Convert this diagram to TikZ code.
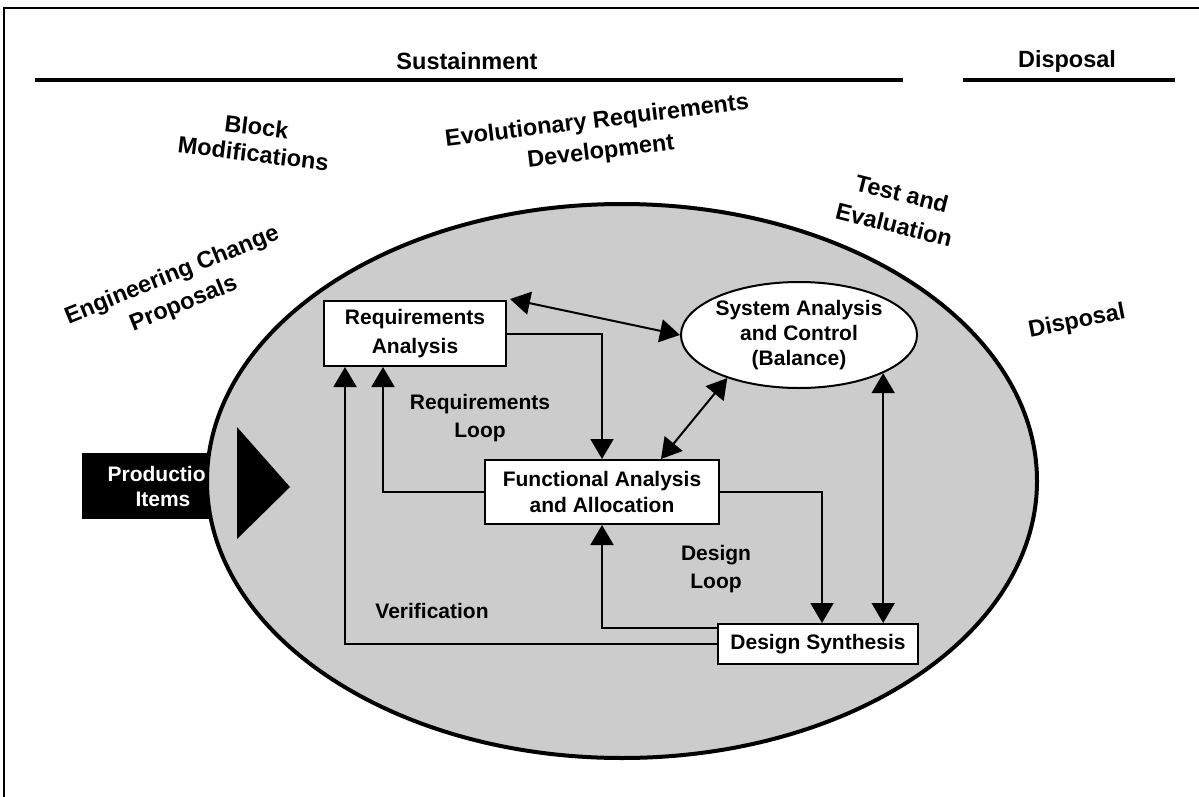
\documentclass[tikz,border=0pt]{standalone}
\usepackage{fontspec}
\setmainfont{Liberation Sans}
\usetikzlibrary{arrows.meta,shapes.geometric,calc}
\definecolor{bigfill}{HTML}{CCCCCC}
\newcommand\dfbig{\fontsize{23.5}{31}\selectfont\bfseries}
\newcommand\dfin{\fontsize{21}{28}\selectfont\bfseries}
\begin{document}
\begin{tikzpicture}[x=1pt,y=-1pt,
  hdr/.style={font=\dfbig, inner sep=0pt, align=center},
  lbl/.style={font=\dfin, inner sep=0pt, align=center},
  box/.style={draw, line width=2pt, fill=white, inner sep=0pt, align=center},
  tipA/.tip={Triangle[length=20pt,width=23pt]},
  arr/.style={line width=2pt, -tipA},
  dbl/.style={line width=2pt, tipA-tipA}]
\useasboundingbox (0,0) rectangle (1199,797);
% frame
\draw[line width=2pt] (4,797) -- (4,8) -- (1199,8);
% headers
\node[hdr] (sust) at (467,61) {Sustainment};
\node[hdr] (disp) at (1067,61) {Disposal};
\draw[line width=3.5pt] (35,80) -- (903,80);
\draw[line width=3.5pt] (963,80) -- (1175,80);
% rotated labels
\node[hdr, rotate=-7, font=\fontsize{23.5}{27}\selectfont\bfseries] (blk) at (255,140) {Block\\Modifications};
\node[hdr, rotate=7] (evo) at (599,137) {Evolutionary Requirements\\Development};
\node[hdr, rotate=22] (ecp) at (178,290) {Engineering Change\\Proposals};
\node[hdr, rotate=-14, font=\fontsize{23.5}{32}\selectfont\bfseries] (tae) at (898,209) {Test and\\Evaluation};
\node[hdr, rotate=11] (dsp) at (1077,322) {Disposal};
% production items
\node[fill=black, text=white, minimum width=162pt, minimum height=66pt, inner sep=0pt,
      font=\fontsize{21}{25}\selectfont\bfseries, align=center] (prod) at (163,486) {Production\\Items};
% big ellipse
\node[ellipse, draw, line width=4pt, fill=bigfill, minimum width=830pt, minimum height=554pt, inner sep=0pt] (big) at (622,481) {};
\fill (237,427) -- (237,539) -- (290,487) -- cycle;
% boxes
\node[box, minimum width=182pt, minimum height=65pt, font=\fontsize{21}{29}\selectfont\bfseries] (reqA) at (415,333.5) {Requirements\\Analysis};
\node[box, minimum width=234pt, minimum height=64pt, font=\fontsize{21}{26}\selectfont\bfseries] (funA) at (602,492) {Functional Analysis\\and Allocation};
\node[box, minimum width=200pt, minimum height=40pt, font=\fontsize{21}{26}\selectfont\bfseries] (desS) at (818,644) {Design Synthesis};
\node[box, ellipse, minimum width=212pt, minimum height=106pt, font=\fontsize{21}{25}\selectfont\bfseries] (sysA) at (799,335) {System Analysis\\and Control\\(Balance)};
% labels
\node[lbl] (rloop) at (480,418) {Requirements\\Loop};
\node[lbl] (dloop) at (716,569) {Design\\Loop};
\node[lbl] (verif) at (432,611) {Verification};
% connectors
\draw[dbl] ($(reqA.north east)+(3,-1)$) -- (sysA.west);
\draw[arr] (reqA.east) -| (funA.north);
\draw[dbl] ($(funA.north)+(59,0)$) -- (sysA.211);
\draw[arr] (funA.west) -| ($(reqA.south)+(-32,0)$);
\draw[arr] (desS.west) -| ($(reqA.south)+(-70,0)$);
\draw[arr] (funA.east) -| ($(desS.north)+(4,0)$);
\draw[dbl] (sysA.south east) -- (sysA.south east |- desS.north);
\draw[arr] ($(desS.north west)+(0,5)$) -| (funA.south);
\end{tikzpicture}
\end{document}
